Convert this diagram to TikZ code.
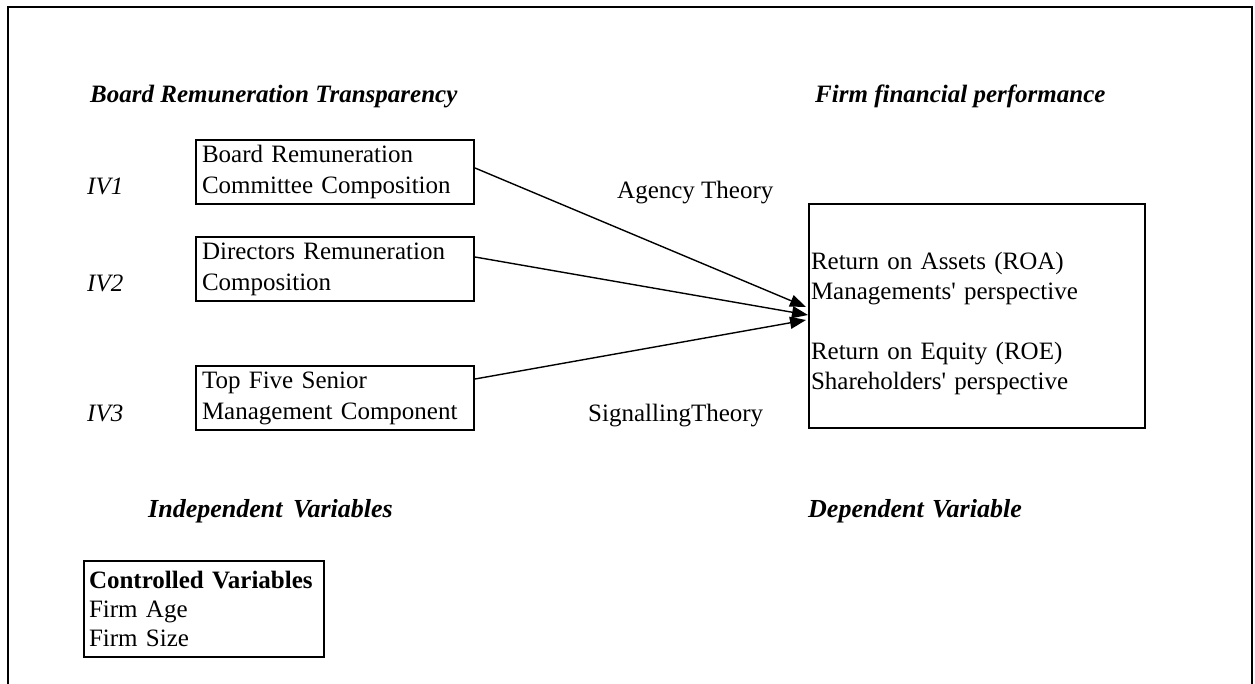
\documentclass[tikz,border=0pt]{standalone}
\usepackage{fontspec}
\setmainfont{Liberation Serif}
\newfontfamily\rawserif{Liberation Serif}
\usetikzlibrary{arrows.meta,calc}
\newcommand{\apos}{{\rawserif\char"0027}}
\tikzset{
  lbl/.style={inner sep=0pt, anchor=base west, font=\fontsize{25}{30}\selectfont},
  head/.style={lbl, font=\fontsize{25}{30}\selectfont\bfseries\itshape},
  foothead/.style={lbl, font=\fontsize{26}{30}\selectfont\bfseries\itshape},
  ivlbl/.style={lbl, font=\fontsize{25}{30}\selectfont\itshape},
  ivbox/.style={draw, line width=2pt, minimum width=278, minimum height=64, inner xsep=6, inner ysep=0,
     text width=266, align=left, anchor=north west, font=\fontsize{25}{31}\selectfont},
  dvbox/.style={draw, line width=2pt, minimum width=336, minimum height=224, inner xsep=2, inner ysep=0,
     text width=332, align=left, anchor=north west, font=\fontsize{25}{30}\selectfont},
  ctrlbox/.style={draw, line width=2pt, minimum height=96, inner xsep=5, inner ysep=0,
     text width=230, align=left, anchor=north west, font=\fontsize{25}{29}\selectfont},
  link/.style={line width=1.4pt, -{Triangle[length=16pt,width=12pt]}},
  frame/.style={line width=2pt}
}
\begin{document}
\begin{tikzpicture}[x=1pt,y=-1pt]
\useasboundingbox (0,0) rectangle (1255,684);
% outer frame (open at the bottom)
\coordinate (fbl) at (8,690);
\coordinate (ftl) at (8,7);
\coordinate (ftr) at (1252,7);
\coordinate (fbr) at (1252,690);
\draw[frame] (fbl) -- (ftl) -- (ftr) -- (fbr);

% headings
\node[head] (hl) at (90,103) {Board Remuneration Transparency};
\node[head] (hr) at (815,103) {Firm financial performance};
\node[foothead] (il) at (148,517) {Independent\hspace{4pt} Variables};
\node[foothead] (dl) at (808,517) {Dependent\hspace{2pt} Variable};

% IV labels
\node[ivlbl] (iv1) at (87,195) {IV1};
\node[ivlbl] (iv2) at (87,292) {IV2};
\node[ivlbl] (iv3) at (87,421) {IV3};

% boxes
\node[ivbox] (b1) at (195,139) {Board Remuneration\\Committee Composition};
\node[ivbox] (b2) at (195,236) {Directors Remuneration\\Composition};
\node[ivbox] (b3) at (195,365) {Top Five Senior\\Management Component};

\node[dvbox] (dv) at (808,203) {\rule{0pt}{33pt}Return on Assets (ROA)\\Managements\apos{} perspective\\[30pt]Return on Equity (ROE)\\Shareholders\apos{} perspective};

% theory labels
\node[lbl] (ag) at (617,199) {Agency Theory};
\node[lbl] (sg) at (588,421) {SignallingTheory};

% controlled variables
\node[ctrlbox] (cv) at (83,560) {\textbf{Controlled Variables}\\Firm Age\\Firm Size};

% arrows
\draw[link] ($(b1.east)+(0,-4)$) -- ($(dv.west)+(-2,-9)$);
\draw[link] ($(b2.east)+(0,-12)$) -- ($(dv.west)+(0,-1)$);
\draw[link] ($(b3.east)+(0,-19)$) -- ($(dv.west)+(-2,4)$);
\end{tikzpicture}
\end{document}
